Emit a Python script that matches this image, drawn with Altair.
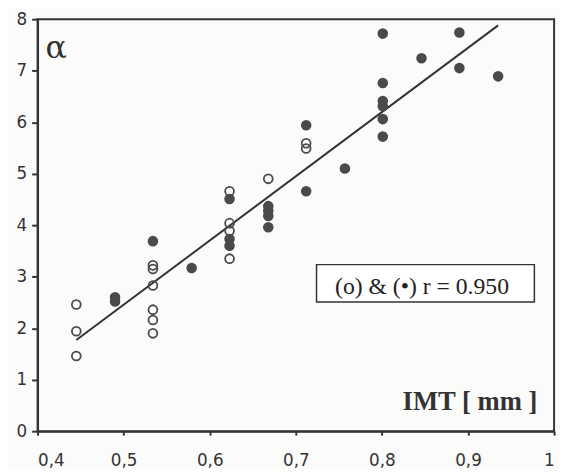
import altair as alt
import pandas as pd

# open circles (o)
open_x = [0.445, 0.445, 0.445,
          0.534, 0.534, 0.534, 0.534, 0.534, 0.534,
          0.623, 0.623, 0.623, 0.623,
          0.668,
          0.712, 0.712]
open_y = [2.46, 1.94, 1.46,
          3.22, 3.15, 2.83, 2.36, 2.16, 1.90,
          4.66, 4.04, 3.89, 3.35,
          4.90,
          5.59, 5.49]

# filled circles (•)
filled_x = [0.490, 0.490,
            0.534,
            0.579,
            0.623, 0.623, 0.623,
            0.668, 0.668, 0.668, 0.668,
            0.712, 0.712,
            0.757,
            0.801, 0.801, 0.801, 0.801, 0.801, 0.801,
            0.846,
            0.890, 0.890,
            0.935]
filled_y = [2.60, 2.52,
            3.69,
            3.17,
            4.51, 3.73, 3.60,
            4.37, 4.28, 4.18, 3.96,
            5.94, 4.66,
            5.10,
            7.72, 6.76, 6.41, 6.31, 6.06, 5.72,
            7.24,
            7.74, 7.05,
            6.89]

# regression line end points
fit_x = [0.445, 0.935]
fit_y = [1.77, 7.88]

x_ticks = [0.4, 0.5, 0.6, 0.7, 0.8, 0.9, 1.0]
y_ticks = [0, 1, 2, 3, 4, 5, 6, 7, 8]

panel_label = "α"
stat_label = "(o) & (•) r = 0.950"
x_label = "IMT [ mm ]"

open_df = pd.DataFrame({"x": open_x, "y": open_y})
filled_df = pd.DataFrame({"x": filled_x, "y": filled_y})
fit_df = pd.DataFrame({"x": fit_x, "y": fit_y})

DARK = "#333333"
PT = "#4a4a4a"

xs = alt.Scale(domain=[0.4, 1.0], nice=False, zero=False)
ys = alt.Scale(domain=[0, 8], nice=False)

x_axis = alt.Axis(
    values=x_ticks,
    labelExpr="datum.value == 1 ? '1' : replace(format(datum.value, '.1f'), '.', ',')",
    title=None, grid=False, tickSize=4, labelPadding=18,
)
y_axis = alt.Axis(
    values=y_ticks, format="d",
    title=None, grid=False, tickSize=6, labelPadding=5,
)

enc = dict(
    x=alt.X("x:Q", scale=xs, axis=x_axis),
    y=alt.Y("y:Q", scale=ys, axis=y_axis),
)

line = alt.Chart(fit_df).mark_line(color=DARK, strokeWidth=2).encode(**enc)

open_pts = alt.Chart(open_df).mark_point(
    shape="circle", filled=False, color=PT, strokeWidth=1.8, size=80, opacity=1
).encode(**enc)

filled_pts = alt.Chart(filled_df).mark_point(
    shape="circle", filled=True, color=PT, size=115, opacity=1
).encode(**enc)

box = alt.Chart(pd.DataFrame({"t": [stat_label]})).mark_rect(
    fill="white", stroke=DARK, strokeWidth=1.5
).encode(
    x=alt.value(283), x2=alt.value(504), y=alt.value(249), y2=alt.value(287)
)

stat_text = alt.Chart(pd.DataFrame({"t": [stat_label]})).mark_text(
    font="Liberation Serif", fontSize=24, color="#222", align="center", baseline="alphabetic"
).encode(
    text="t:N", x=alt.value(390), y=alt.value(279)
)

alpha_text = alt.Chart(pd.DataFrame({"t": [panel_label]})).mark_text(
    font="DejaVu Serif", fontSize=32, color="#333", align="left", baseline="alphabetic"
).encode(
    text="t:N", x=alt.value(8), y=alt.value(39)
)

xlabel_text = alt.Chart(pd.DataFrame({"t": [x_label]})).mark_text(
    font="Liberation Serif", fontSize=27, fontWeight="bold", color="#333",
    align="right", baseline="alphabetic"
).encode(
    text="t:N", x=alt.value(507), y=alt.value(396)
)

chart = alt.layer(
    box, stat_text, alpha_text, xlabel_text, line, open_pts, filled_pts
).properties(
    width=524, height=418,
    padding={"left": 30, "top": 8, "right": 6, "bottom": 35},
    autosize=alt.AutoSizeParams(type="none"),
    background="#fbfbfa",
).configure_view(
    stroke=DARK, strokeWidth=2
).configure_axis(
    labelFont="DejaVu Sans", labelFontSize=17, labelColor=DARK,
    domainColor=DARK, domainWidth=2, tickColor=DARK, tickWidth=2,
)

chart.save("out.html", embed_options={"renderer": "svg", "actions": False})
